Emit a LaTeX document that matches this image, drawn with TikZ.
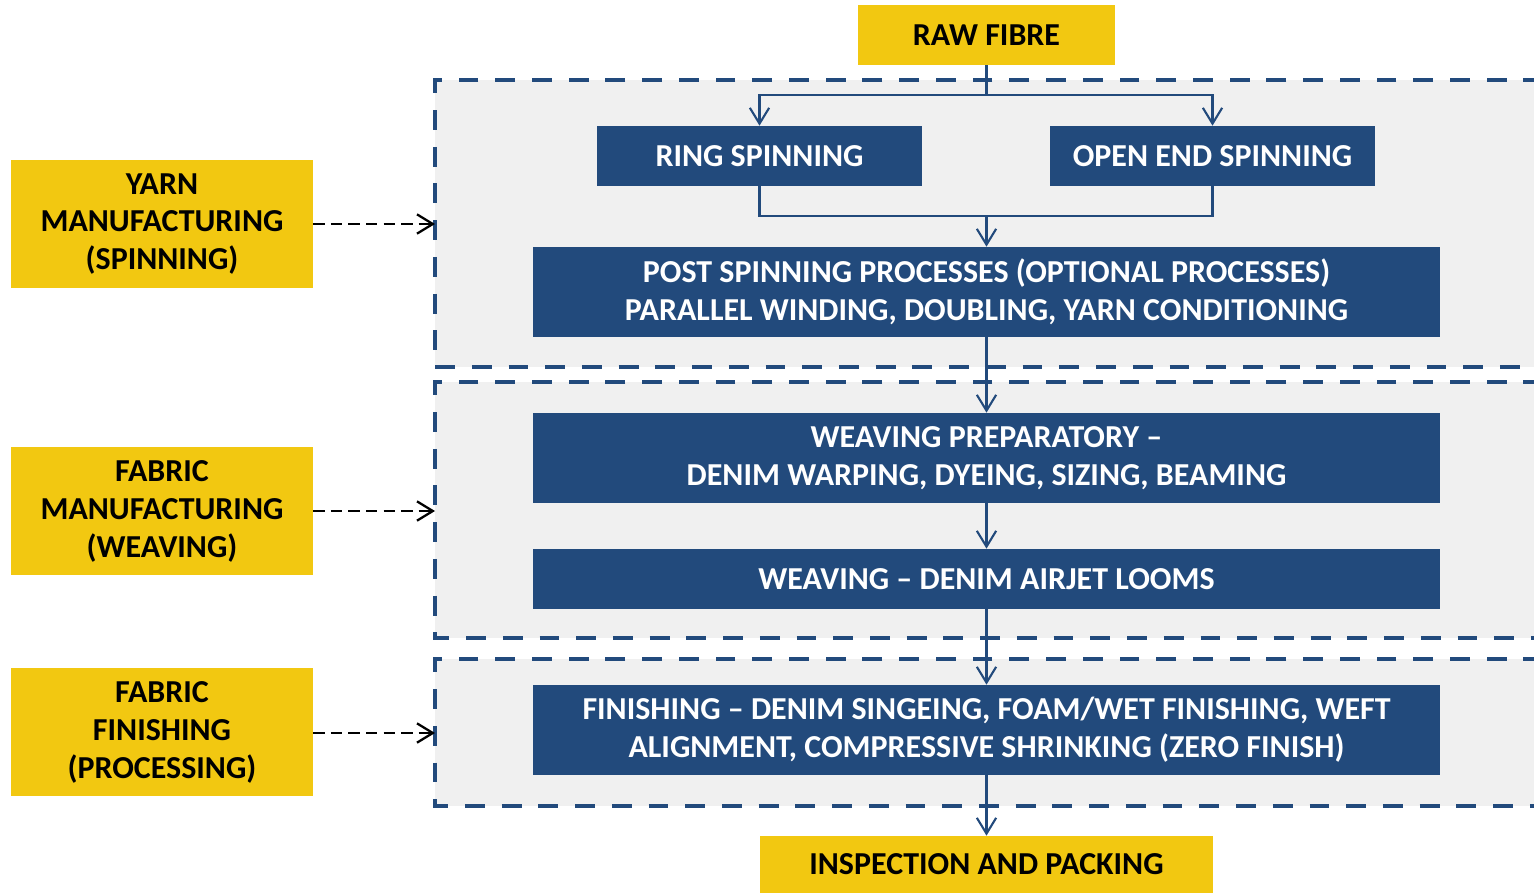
\documentclass[tikz,border=0pt]{standalone}
\usepackage{fontspec}
\setmainfont{Carlito}
\usetikzlibrary{arrows.meta}
\definecolor{dblue}{HTML}{224A7C}
\definecolor{gold}{HTML}{F2C811}
\definecolor{panel}{HTML}{F0F0F0}
\begin{document}
\begin{tikzpicture}[x=0.02cm,y=-0.02cm,
  txt/.style={font=\bfseries\fontsize{18.2}{21.6}\selectfont,align=center,inner sep=0pt},
  bluebox/.style={txt,fill=dblue,text=white},
  goldbox/.style={txt,fill=gold,text=black},
  link/.style={draw=dblue,line width=1.2pt},
  flow/.style={link,-{Straight Barb[length=9pt,width=11pt,line width=1.2pt]}},
  ptr/.style={draw=black,line width=1.2pt,dash pattern=on 6.5pt off 3.5pt,-{Straight Barb[length=9pt,width=11pt,line width=1.3pt]}},
  panelbox/.style={fill=panel,draw=dblue,line width=2.3pt,dash pattern=on 11.3pt off 9.6pt}]
\useasboundingbox (0,0) rectangle (1534,893);
\clip (0,0) rectangle (1534,893);
% panels
\path[panelbox] (1580,80) -- (435,80) -- (435,367) -- (1580,367);
\path[panelbox] (1580,382) -- (435,382) -- (435,638) -- (1580,638);
\path[panelbox] (1580,659) -- (435,659) -- (435,806) -- (1580,806);
% main nodes
\node[goldbox,minimum width=5.14cm,minimum height=1.2cm] (raw) at (986.5,35) {RAW FIBRE};
\node[bluebox,minimum width=6.5cm,minimum height=1.2cm] (ring) at (759.5,156) {RING SPINNING};
\node[bluebox,minimum width=6.5cm,minimum height=1.2cm] (oe) at (1212.5,156) {OPEN END SPINNING};
\node[bluebox,minimum width=18.14cm,minimum height=1.8cm] (post) at (986.5,292) {POST SPINNING PROCESSES (OPTIONAL PROCESSES)\\PARALLEL WINDING, DOUBLING, YARN CONDITIONING};
\node[bluebox,minimum width=18.14cm,minimum height=1.8cm] (prep) at (986.5,458) {WEAVING PREPARATORY \textendash\\DENIM WARPING, DYEING, SIZING, BEAMING};
\node[bluebox,minimum width=18.14cm,minimum height=1.2cm] (loom) at (986.5,579) {WEAVING \textendash{} DENIM AIRJET LOOMS};
\node[bluebox,minimum width=18.14cm,minimum height=1.8cm] (fin) at (986.5,730) {FINISHING \textendash{} DENIM SINGEING, FOAM/WET FINISHING, WEFT\\ALIGNMENT, COMPRESSIVE SHRINKING (ZERO FINISH)};
\node[goldbox,minimum width=9.06cm,minimum height=1.14cm] (insp) at (986.5,864.5) {INSPECTION AND PACKING};
% stage labels
\node[goldbox,minimum width=6.04cm,minimum height=2.56cm] (yarn) at (162,224) {YARN\\MANUFACTURING\\(SPINNING)};
\node[goldbox,minimum width=6.04cm,minimum height=2.56cm] (fabm) at (162,511) {FABRIC\\MANUFACTURING\\(WEAVING)};
\node[goldbox,minimum width=6.04cm,minimum height=2.56cm] (fabf) at (162,732) {FABRIC\\FINISHING\\(PROCESSING)};
% connectors
\draw[link] (raw.south) -- ++(0,30) coordinate (split);
\draw[flow] (split) -| (ring.north);
\draw[flow] (split) -| (oe.north);
\draw[link] (ring.south) -- ++(0,30) coordinate (rb) -| (oe.south);
\coordinate (merge) at (rb -| post.north);
\draw[flow] (merge) -- (post.north);
\draw[flow] (post.south) -- (prep.north);
\draw[flow] (prep.south) -- (loom.north);
\draw[flow] (loom.south) -- (fin.north);
\draw[flow] (fin.south) -- (insp.north);
% stage pointers
\coordinate (p1) at (435,224);
\coordinate (p2) at (435,511);
\coordinate (p3) at (435,733);
\draw[ptr] (yarn.east |- p1) -- (p1);
\draw[ptr] (fabm.east |- p2) -- (p2);
\draw[ptr] (fabf.east |- p3) -- (p3);
\end{tikzpicture}
\end{document}
